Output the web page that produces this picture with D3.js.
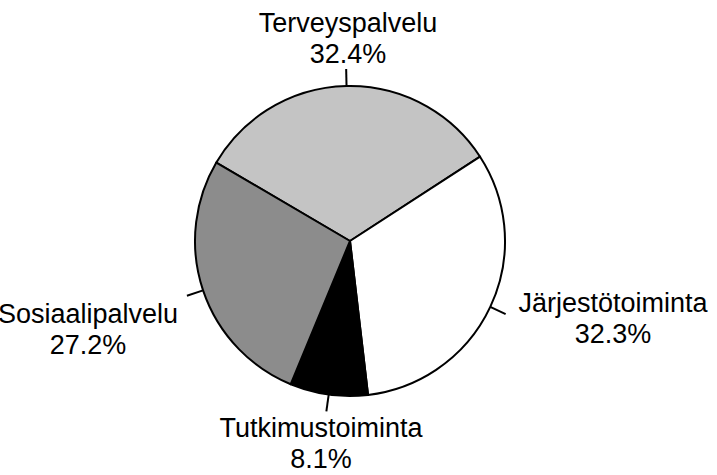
<!DOCTYPE html>
<html>
<head>
<meta charset="utf-8">
<script src="https://cdn.jsdelivr.net/npm/d3@7"></script>
<style>
  body { margin: 0; background: #fff; }
  svg { display: block; }
</style>
</head>
<body>
<svg id="pie"></svg>
<script>

var categories = ["Terveyspalvelu", "Järjestötoiminta", "Tutkimustoiminta", "Sosiaalipalvelu"]
var shares = [32.4, 32.3, 8.1, 27.2]
var shareLabels = ["32.4%", "32.3%", "8.1%", "27.2%"]
var fills = ["#c4c4c4", "#ffffff", "#000000", "#8c8c8c"]

var dimensions = ({
        width: 717,
        height: 475,
        cx: 350,
        cy: 241,
        radius: 155,
        tick: 17
})

// label anchor spots (text centre x, first baseline y)
var labelSpots = [
    {x: 348, y: 32},
    {x: 613, y: 312},
    {x: 321, y: 437},
    {x: 88, y: 323}
]

var data = categories.map(function(c, i){
    return {name: c, value: shares[i], label: shareLabels[i], fill: fills[i], spot: labelSpots[i]}
})

var svg = d3.select("#pie")
            .attr("width", dimensions.width)
            .attr("height", dimensions.height)

var startDeg = -59.6
var pie = d3.pie()
        .sort(null)
        .value(function(d){ return d.value })
        .startAngle(startDeg * Math.PI / 180)
        .endAngle((startDeg + 360) * Math.PI / 180)

var arc = d3.arc()
        .innerRadius(0)
        .outerRadius(dimensions.radius)

var bounds = svg.append("g")
    .attr("transform", "translate(" + dimensions.cx + "," + dimensions.cy + ")")

var arcs = pie(data)

bounds.selectAll("path.slice")
    .data(arcs)
    .enter()
    .append("path")
    .attr("class", "slice")
    .attr("d", arc)
    .attr("fill", function(d){ return d.data.fill })
    .attr("stroke", "#000")
    .attr("stroke-width", 2)
    .attr("stroke-linejoin", "round")

// small outward ticks at each slice middle
bounds.selectAll("line.tick")
    .data(arcs)
    .enter()
    .append("line")
    .attr("x1", function(d){ var a = (d.startAngle + d.endAngle) / 2; return Math.sin(a) * dimensions.radius })
    .attr("y1", function(d){ var a = (d.startAngle + d.endAngle) / 2; return -Math.cos(a) * dimensions.radius })
    .attr("x2", function(d){ var a = (d.startAngle + d.endAngle) / 2; return Math.sin(a) * (dimensions.radius + dimensions.tick) })
    .attr("y2", function(d){ var a = (d.startAngle + d.endAngle) / 2; return -Math.cos(a) * (dimensions.radius + dimensions.tick) })
    .attr("stroke", "#000")
    .attr("stroke-width", 2)

var labels = svg.selectAll("text.lab")
    .data(data)
    .enter()
    .append("text")
    .attr("class", "lab")
    .attr("font-family", "'Liberation Sans', Arial, Helvetica, sans-serif")
    .attr("font-size", 27)
    .attr("fill", "#000")
    .attr("text-anchor", "middle")

labels.append("tspan")
    .attr("x", function(d){ return d.spot.x })
    .attr("y", function(d){ return d.spot.y })
    .text(function(d){ return d.name })

labels.append("tspan")
    .attr("x", function(d){ return d.spot.x })
    .attr("y", function(d){ return d.spot.y + 31 })
    .text(function(d){ return d.label })

</script>
</body>
</html>
